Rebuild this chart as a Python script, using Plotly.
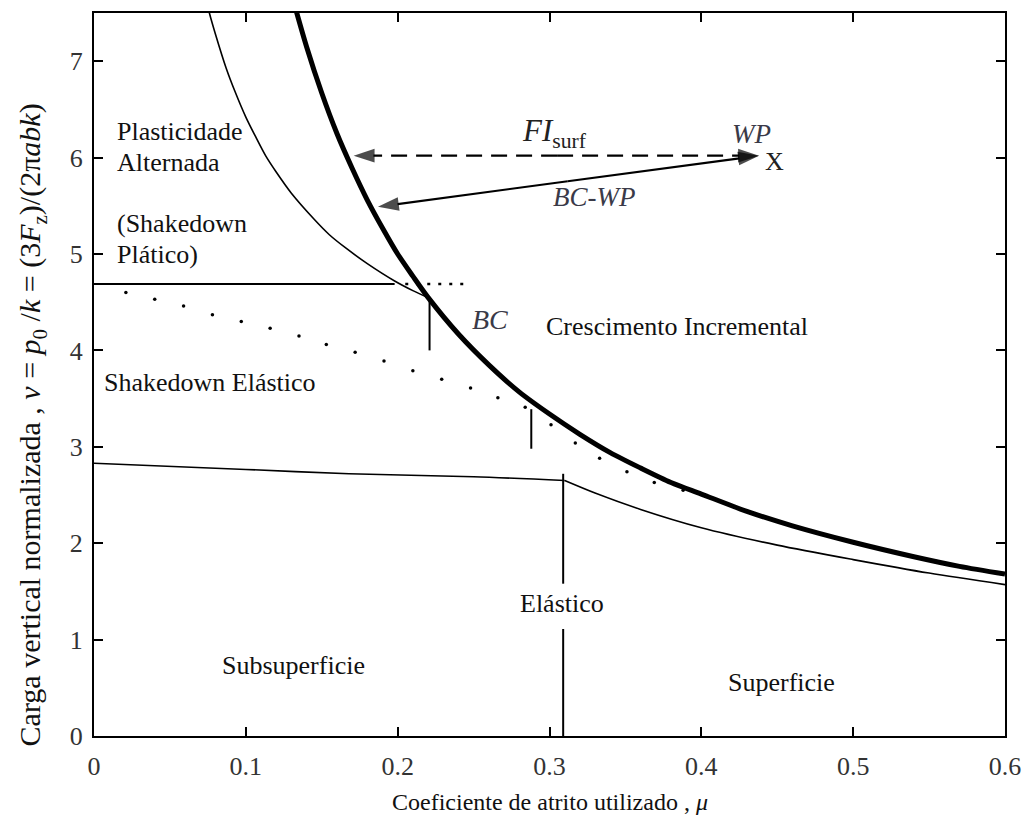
import plotly.graph_objects as go

# ---------------- data ----------------
# thick curve: surface shakedown limit (BC)
thick_x = [0.13, 0.14, 0.15, 0.16, 0.17, 0.18, 0.19, 0.20, 0.21, 0.22, 0.24, 0.26, 0.28,
           0.30, 0.32, 0.34, 0.36, 0.38, 0.40, 0.43, 0.46, 0.50, 0.54, 0.57, 0.60]
thick_y = [7.70, 7.15, 6.67, 6.25, 5.89, 5.56, 5.27, 5.00, 4.77, 4.55, 4.17, 3.85, 3.57,
           3.34, 3.13, 2.94, 2.78, 2.63, 2.51, 2.33, 2.18, 2.01, 1.86, 1.76, 1.68]

# thin curve: plastic shakedown boundary (upper left)
plast_x = [0.073, 0.076, 0.080, 0.087, 0.093, 0.100, 0.106, 0.113, 0.120, 0.130, 0.145,
           0.155, 0.166, 0.180, 0.198, 0.210, 0.221]
plast_y = [7.70, 7.50, 7.28, 6.93, 6.68, 6.42, 6.23, 6.02, 5.85, 5.63, 5.36,
           5.20, 5.06, 4.90, 4.72, 4.62, 4.54]

# horizontal elastic shakedown limit (solid then dotted)
hline_x = [0.0, 0.198]
hline_y = [4.69, 4.69]
hdot_x = [0.205, 0.247]
hdot_y = [4.69, 4.69]

# dotted curve
dot_x = [0.021, 0.040, 0.059, 0.078, 0.097, 0.116, 0.135, 0.153, 0.172, 0.191, 0.210,
         0.229, 0.248, 0.266, 0.284, 0.301, 0.317, 0.333, 0.351, 0.369, 0.388]
dot_y = [4.60, 4.53, 4.46, 4.37, 4.30, 4.23, 4.15, 4.06, 3.98, 3.89, 3.79,
         3.70, 3.61, 3.51, 3.41, 3.23, 3.04, 2.88, 2.74, 2.63, 2.55]

# lower curve: elastic limit (subsurface / surface)
low1_x = [0.0, 0.10, 0.168, 0.25, 0.31]
low1_y = [2.83, 2.765, 2.72, 2.69, 2.65]
low2_x = [0.31, 0.33, 0.36, 0.40, 0.45, 0.50, 0.55, 0.60]
low2_y = [2.65, 2.52, 2.35, 2.16, 1.98, 1.83, 1.69, 1.57]

# vertical marker lines
v1_x = [0.221, 0.221]
v1_y = [4.00, 4.54]
v2_x = [0.288, 0.288]
v2_y = [2.98, 3.39]
v3a_x = [0.309, 0.309]
v3a_y = [0.0, 1.11]
v3b_x = [0.309, 0.309]
v3b_y = [1.58, 2.72]

# arrows
wp_point = [0.438, 6.02]
fi_tip = [0.171, 6.02]
bcwp_tip = [0.187, 5.49]
fi_mid = [0.305, 6.02]
bcwp_mid = [0.312, 5.755]

FONT = "Liberation Serif"
BLACK = "#000000"

fig = go.Figure()

def line(x, y, width, dash="solid", color=BLACK, shape="linear"):
    fig.add_trace(go.Scatter(x=x, y=y, mode="lines",
                             line=dict(color=color, width=width, dash=dash, shape=shape,
                                       smoothing=0.8),
                             showlegend=False, hoverinfo="skip"))

line(thick_x, thick_y, 5, shape="spline")
line(plast_x, plast_y, 1.6, shape="spline")
line(hline_x, hline_y, 2)
line(hdot_x, hdot_y, 2.5, dash="3px,8px")
line(low1_x, low1_y, 1.6, shape="spline")
line(low2_x, low2_y, 1.6, shape="spline")
line(v1_x, v1_y, 2)
line(v2_x, v2_y, 2)
line(v3a_x, v3a_y, 2)
line(v3b_x, v3b_y, 2)

fig.add_trace(go.Scatter(x=dot_x, y=dot_y, mode="markers",
                         marker=dict(color=BLACK, size=3.5),
                         showlegend=False, hoverinfo="skip"))

def arrow(p0, p1, dash="solid"):
    fig.add_trace(go.Scatter(x=[p0[0], p1[0]], y=[p0[1], p1[1]], mode="lines+markers",
                             line=dict(color=BLACK, width=2.2, dash=dash),
                             marker=dict(symbol="arrow", size=[0, 22], angleref="previous",
                                         color=BLACK, line=dict(width=0)),
                             showlegend=False, hoverinfo="skip"))

arrow(fi_mid, fi_tip, dash="16px,9px")
arrow(fi_mid, wp_point, dash="16px,9px")
arrow(bcwp_mid, bcwp_tip)
arrow(bcwp_mid, wp_point)

ann = []

def txt(x, y, s, size=26, xanchor="center", color="#111111"):
    ann.append(dict(x=x, y=y, xref="x", yref="y", text=s, showarrow=False,
                    xanchor=xanchor, yanchor="middle",
                    font=dict(family=FONT, size=size, color=color)))

txt(0.0138, 6.27, "Plasticidade", xanchor="left")
txt(0.0138, 5.95, "Alternada", xanchor="left")
txt(0.0138, 5.32, "(Shakedown", xanchor="left")
txt(0.0138, 5.00, "Plático)", xanchor="left")
txt(0.0052, 3.67, "Shakedown Elástico", xanchor="left")
txt(0.384, 4.25, "Crescimento Incremental")
txt(0.1316, 0.73, "Subsuperficie")
txt(0.4525, 0.56, "Superficie")
txt(0.3085, 1.37, "Elástico")
txt(0.261, 4.32, "<i>BC</i>", size=28, color="#3a3a48")
txt(0.329, 5.59, "<i>BC-WP</i>", size=27, color="#3a3a48")
txt(0.433, 6.24, "<i>WP</i>", size=27, color="#3a3a48")
txt(0.303, 6.26, "<i>FI</i><sub>surf</sub>", size=31, color="#222222")
txt(0.448, 5.96, "X", size=26, color="#222222")

# axis titles
ann.append(dict(x=0.5, y=-0.091, xref="paper", yref="paper", showarrow=False,
                text="Coeficiente de atrito utilizado , <i>μ</i>",
                xanchor="center", yanchor="middle",
                font=dict(family=FONT, size=24, color="#111111")))
ann.append(dict(x=-0.0677, y=0.43, xref="paper", yref="paper", showarrow=False,
                textangle=-90,
                text="Carga vertical normalizada , <i>v</i> = <i>p</i><sub>0</sub> /<i>k</i> = (3<i>F</i><sub>z</sub>)/(2π<i>abk</i>)",
                xanchor="center", yanchor="middle",
                font=dict(family=FONT, size=30, color="#111111")))

x_ticks = [0, 0.1, 0.2, 0.3, 0.4, 0.5, 0.6]
x_labels = ["0", "0.1", "0.2", "0.3", "0.4", "0.5", "0.6"]
y_ticks = [0, 1, 2, 3, 4, 5, 6, 7]
y_labels = ["0", "1", "2", "3", "4", "5", "6", "7"]

axis_common = dict(showgrid=False, zeroline=False, showline=True, linecolor=BLACK,
                   linewidth=2, mirror="ticks", ticks="inside", ticklen=9, tickwidth=2,
                   tickcolor=BLACK, tickfont=dict(family=FONT, size=26, color="#333333"))

fig.update_layout(
    width=1032, height=821,
    margin=dict(l=94, r=22, t=11, b=85),
    paper_bgcolor="white", plot_bgcolor="white",
    xaxis=dict(range=[0, 0.6], tickvals=x_ticks, ticktext=x_labels,
               ticklabelstandoff=6, ticklabeloverflow="allow", **axis_common),
    yaxis=dict(range=[0, 7.5], tickvals=y_ticks, ticktext=y_labels,
               ticklabelstandoff=4, **axis_common),
    annotations=ann,
)

# remove the default 8px page margin so the 1032x821 figure fills the window exactly
fig.write_html("out.html",
               config={"displayModeBar": False},
               post_script="document.body.style.margin='0';document.body.style.overflow='hidden';")
